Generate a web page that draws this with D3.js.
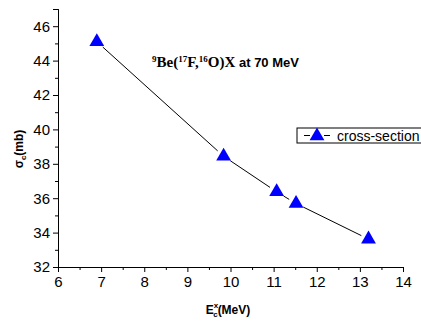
<!DOCTYPE html>
<html>
<head>
<meta charset="utf-8">
<script src="https://cdn.jsdelivr.net/npm/d3@7"></script>
<style>
  body { margin: 0; background: #fff; }
  svg { display: block; }
</style>
</head>
<body>
<svg id="chart" width="421" height="322"></svg>
<script>
// values
const energies = [6.9, 9.84, 11.07, 11.52, 13.2];
const crossSections = [45.1, 38.44, 36.37, 35.69, 33.62];
const xTickValues = [6, 7, 8, 9, 10, 11, 12, 13, 14];
const yTickValues = [32, 34, 36, 38, 40, 42, 44, 46];
const seriesName = "cross-section";

const svg = d3.select("#chart");

const x = d3.scaleLinear().domain([6, 14]).range([58, 403]);
const y = d3.scaleLinear().domain([32, 47]).range([267, 9]);

const points = energies.map((e, i) => ({ e: e, s: crossSections[i] }));

// axes
const xAxis = svg.append("g").attr("transform", `translate(0, ${y(32)})`);
xAxis.call(d3.axisBottom(x).tickValues(xTickValues).tickSize(5).tickPadding(4).tickFormat(d3.format("d")));
const xMinor = svg.append("g").attr("transform", `translate(0, ${y(32)})`);
xMinor.call(d3.axisBottom(x).tickValues(d3.range(6.5, 14, 1)).tickSize(3).tickFormat(""));

const yAxis = svg.append("g").attr("transform", `translate(${x(6)}, 0)`);
yAxis.call(d3.axisLeft(y).tickValues(yTickValues).tickSize(5).tickPadding(3).tickFormat(d3.format("d")));
const yMinor = svg.append("g").attr("transform", `translate(${x(6)}, 0)`);
yMinor.call(d3.axisLeft(y).tickValues(d3.range(33, 48, 2)).tickSize(3).tickFormat(""));

svg.selectAll(".domain").attr("stroke", "#000").attr("stroke-width", 1);
svg.selectAll(".tick line").attr("stroke", "#000");
svg.selectAll(".tick text")
  .attr("font-family", "Liberation Sans, Arial, sans-serif")
  .attr("font-size", 15)
  .attr("fill", "#000");

// connecting line, with small gaps around each marker
const gap = 8;
for (let i = 0; i < points.length - 1; i++)
{
  const x1 = x(points[i].e), y1 = y(points[i].s);
  const x2 = x(points[i + 1].e), y2 = y(points[i + 1].s);
  const len = Math.hypot(x2 - x1, y2 - y1);
  const ux = (x2 - x1) / len, uy = (y2 - y1) / len;
  svg.append("line")
    .attr("x1", x1 + ux * gap)
    .attr("y1", y1 + uy * gap)
    .attr("x2", x2 - ux * gap)
    .attr("y2", y2 - uy * gap)
    .attr("stroke", "#000")
    .attr("stroke-width", 1);
}

const triangle = d3.symbol().type(d3.symbolTriangle).size(95);
svg.selectAll(".marker")
  .data(points)
  .enter()
  .append("path")
  .attr("class", "marker")
  .attr("d", triangle)
  .attr("transform", (d) => `translate(${x(d.e)}, ${y(d.s)})`)
  .attr("fill", "#0000ff");

// annotation
const note = svg.append("text")
  .attr("x", 152)
  .attr("y", 67)
  .attr("font-weight", "bold")
  .attr("fill", "#000");
const serif = "Liberation Serif, Times New Roman, serif";
const sans = "Liberation Sans, Arial, sans-serif";
note.append("tspan").attr("font-family", serif).attr("font-size", 9).attr("dy", -5).text("9");
note.append("tspan").attr("font-family", serif).attr("font-size", 15).attr("dy", 5).text("Be(");
note.append("tspan").attr("font-family", serif).attr("font-size", 9).attr("dy", -5).text("17");
note.append("tspan").attr("font-family", serif).attr("font-size", 15).attr("dy", 5).text("F,");
note.append("tspan").attr("font-family", serif).attr("font-size", 9).attr("dy", -5).text("16");
note.append("tspan").attr("font-family", serif).attr("font-size", 15).attr("dy", 5).text("O)X ");
note.append("tspan").attr("font-family", sans).attr("font-size", 13).text("at 70 MeV");

// legend
const legend = svg.append("g");
legend.append("rect")
  .attr("x", 297).attr("y", 128)
  .attr("width", 126).attr("height", 15)
  .attr("fill", "#fff")
  .attr("stroke", "#000")
  .attr("stroke-width", 1);
legend.append("line").attr("x1", 304).attr("x2", 310).attr("y1", 135.5).attr("y2", 135.5).attr("stroke", "#000");
legend.append("line").attr("x1", 324).attr("x2", 330).attr("y1", 135.5).attr("y2", 135.5).attr("stroke", "#000");
legend.append("path")
  .attr("d", triangle)
  .attr("transform", "translate(317, 136)")
  .attr("fill", "#0000ff");
legend.append("text")
  .attr("x", 337).attr("y", 141)
  .attr("font-family", sans)
  .attr("font-size", 14)
  .attr("fill", "#000")
  .text(seriesName);

// axis titles
const yTitle = svg.append("text")
  .attr("transform", "translate(23, 149) rotate(-90)")
  .attr("text-anchor", "middle")
  .attr("font-family", sans)
  .attr("font-weight", "bold")
  .attr("font-size", 12)
  .attr("fill", "#000");
yTitle.append("tspan").text("σ");
yTitle.append("tspan").attr("font-size", 8).attr("dy", 3).text("c");
yTitle.append("tspan").attr("dy", -3).text("(mb)");

const xTitle = svg.append("text")
  .attr("x", 228)
  .attr("y", 314)
  .attr("text-anchor", "middle")
  .attr("font-family", sans)
  .attr("font-weight", "bold")
  .attr("font-size", 12)
  .attr("fill", "#000");
xTitle.append("tspan").text("E");
xTitle.append("tspan").attr("font-size", 8).attr("dy", -6).text("x");
xTitle.append("tspan").attr("font-size", 8).attr("dx", -5).attr("dy", 9).text("c");
xTitle.append("tspan").attr("dy", -3).text("(MeV)");
</script>
</body>
</html>
